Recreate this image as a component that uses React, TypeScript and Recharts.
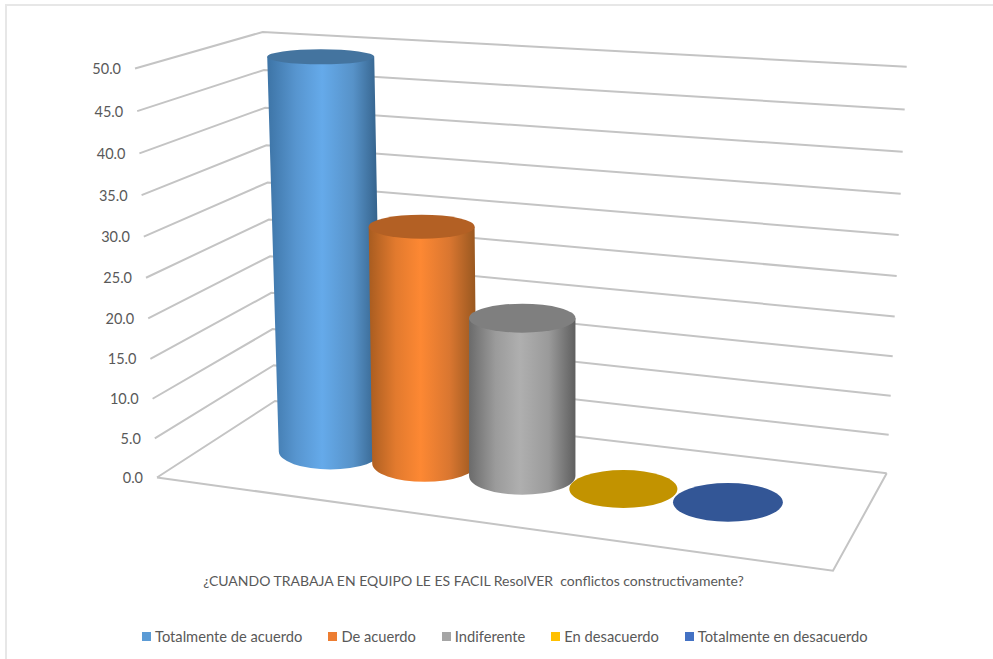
import { Bar, ComposedChart, Legend, XAxis, YAxis } from 'recharts'

const categories = ['¿CUANDO TRABAJA EN EQUIPO LE ES FACIL ResolVER  conflictos constructivamente?']
const seriesNames = [
  'Totalmente de acuerdo',
  'De acuerdo',
  'Indiferente',
  'En desacuerdo',
  'Totalmente en desacuerdo',
]
const seriesValues = [50, 30, 20, 0, 0]
const seriesColors = ['#5b9bd5', '#ed7d31', '#a5a5a5', '#ffc000', '#4472c4']
const topColors = ['#44749f', '#b36024', '#7f7f7f', '#c29300', '#335696']
const sideStops = [
  ['#3d74a6', '#5795cf', '#65aaea', '#5792c8', '#2f5b82'],
  ['#a85c20', '#e27a2e', '#fd8833', '#d97630', '#95561f'],
  ['#6b6b6b', '#9b9b9b', '#afafaf', '#9a9a9a', '#5f5f5f'],
  ['#c29300', '#c29300', '#c29300', '#c29300', '#c29300'],
  ['#335696', '#335696', '#335696', '#335696', '#335696'],
]
const yTicks = [0, 5, 10, 15, 20, 25, 30, 35, 40, 45, 50]

const data = categories.map((category) => {
  const row: Record<string, string | number> = { category }
  seriesNames.forEach((name, i) => {
    row[name] = seriesValues[i]
  })
  return row
})

const WIDTH = 993
const HEIGHT = 659
const PLOT_TOP = 68
const PLOT_BOTTOM = 477
const PLOT_LEFT = 157
const PLOT_CENTER = 522
const FONT = 'Lato, "Open Sans", sans-serif'
const TEXT = '#595959'
const WALL = '#c4c4c4'

const chartMargin = { top: PLOT_TOP, right: WIDTH - 887, bottom: 0, left: 0 }

// share of the axis height, 0 at the floor and 1 at the top tick
const axisShare = (y: number) => (PLOT_BOTTOM - y) / (PLOT_BOTTOM - PLOT_TOP)

// perspective bows the evenly spaced ticks a little towards the floor
const bow = (share: number, amount: number) => amount * share * (1 - share)

// ellipses open up as they get closer to the bottom of the view
const ellipseRy = (y: number) => 6.1 + 0.0263 * y

type CylinderProps = {
  x: number
  y: number
  width: number
  height: number
  series: number
}

const Cylinder = ({ x, y, width, height, series }: CylinderProps) => {
  const d = x + width / 2 - PLOT_CENTER
  const level = height / (PLOT_BOTTOM - PLOT_TOP)

  const baseCx = PLOT_CENTER + 0.989 * d + 0.00017 * d * d
  const baseCy = y + height - 1 + 0.128 * (baseCx - PLOT_CENTER)
  const baseRx = 53.2 + 0.0085 * d
  const baseRy = ellipseRy(baseCy)

  if (height <= 0) {
    return <ellipse cx={baseCx} cy={baseCy} rx={baseRx} ry={baseRy} fill={topColors[series]} />
  }

  const topCx = baseCx + (baseCx - PLOT_CENTER) * 0.05 * level
  const topCy = baseCy - height * 0.965
  const topRx = baseRx + Math.abs(d) * 0.01 * level
  const topRy = ellipseRy(topCy)
  const gradientId = `side-${series}`
  const stops = sideStops[series]

  return (
    <g>
      <defs>
        <linearGradient id={gradientId} x1="0" y1="0" x2="1" y2="0">
          <stop offset="0" stopColor={stops[0]} />
          <stop offset="0.25" stopColor={stops[1]} />
          <stop offset="0.48" stopColor={stops[2]} />
          <stop offset="0.75" stopColor={stops[3]} />
          <stop offset="1" stopColor={stops[4]} />
        </linearGradient>
      </defs>
      <path
        d={`M${topCx - topRx},${topCy} L${baseCx - baseRx},${baseCy} A${baseRx},${baseRy} 0 0 0 ${baseCx + baseRx},${baseCy} L${topCx + topRx},${topCy} Z`}
        fill={`url(#${gradientId})`}
      />
      <ellipse cx={topCx} cy={topCy} rx={topRx} ry={topRy} fill={topColors[series]} />
    </g>
  )
}

// each value tick runs along the side wall and then across the back wall
const WallTick = ({ y, payload }: any) => {
  const share = axisShare(y)
  const frontX = PLOT_LEFT - 22 * share
  const frontY = y + 0.5 + bow(share, 19)
  const backX = 275 - 12.3 * share
  const backY = 401 - 369 * share + bow(share, 12)
  const endX = 886.7 + 20 * share
  const endY = 473.3 - 406.6 * share + bow(share, 24)

  return (
    <g>
      <polyline
        points={`${frontX},${frontY} ${backX},${backY} ${endX},${endY}`}
        fill="none"
        stroke={WALL}
        strokeWidth={2}
      />
      {payload.value === 0 && (
        <polyline
          points={`${frontX},${frontY} 833,570.7 ${endX},${endY}`}
          fill="none"
          stroke={WALL}
          strokeWidth={2}
        />
      )}
      <text
        x={frontX - 14}
        y={frontY + 5.5}
        textAnchor="end"
        fontFamily={FONT}
        fontSize={14.5}
        fill={TEXT}
      >
        {payload.value.toFixed(1)}
      </text>
    </g>
  )
}

const CategoryTick = ({ x, payload }: any) => (
  <text
    x={x - 48.5}
    y={586}
    textAnchor="middle"
    fontFamily={FONT}
    fontSize={14}
    fill={TEXT}
    xmlSpace="preserve"
  >
    {payload.value}
  </text>
)

const LegendRow = () => (
  <div
    style={{
      position: 'absolute',
      left: 142,
      top: 626,
      display: 'flex',
      gap: 26,
      fontFamily: FONT,
      fontSize: 14.7,
      lineHeight: '20px',
      color: TEXT,
      whiteSpace: 'nowrap',
    }}
  >
    {seriesNames.map((name, i) => (
      <span key={name} style={{ display: 'flex', alignItems: 'center', gap: 4 }}>
        <span style={{ width: 9, height: 9, background: seriesColors[i] }} />
        {name}
      </span>
    ))}
  </div>
)

export default function App() {
  return (
    <div style={{ position: 'absolute', left: 0, top: 0, width: WIDTH, height: HEIGHT, background: '#fff' }}>
      <div
        style={{
          position: 'absolute',
          left: 5,
          top: 4,
          right: 0,
          bottom: 0,
          borderTop: '2px solid #e7e7e7',
          borderLeft: '2px solid #e7e7e7',
        }}
      />
      {/* walls and axis text sit in their own chart so the cylinders stack above them */}
      <div style={{ position: 'absolute', left: 0, top: 0 }}>
        <ComposedChart width={WIDTH} height={HEIGHT} data={data} margin={chartMargin}>
          <XAxis
            dataKey="category"
            height={HEIGHT - PLOT_BOTTOM}
            axisLine={false}
            tickLine={false}
            interval={0}
            tick={CategoryTick}
          />
          <YAxis
            width={PLOT_LEFT}
            domain={[0, 50]}
            ticks={yTicks}
            interval={0}
            axisLine={false}
            tickLine={false}
            tick={WallTick}
          />
          {/* the numeric axis only draws its ticks when a series is attached */}
          <Bar dataKey={seriesNames[0]} fill="none" isAnimationActive={false} />
        </ComposedChart>
      </div>
      <div style={{ position: 'absolute', left: 0, top: 0 }}>
        <ComposedChart
          width={WIDTH}
          height={HEIGHT}
          data={data}
          barSize={100.5}
          barGap={0}
          margin={{ ...chartMargin, left: PLOT_LEFT, bottom: HEIGHT - PLOT_BOTTOM }}
        >
          <XAxis dataKey="category" hide />
          <YAxis domain={[0, 50]} ticks={yTicks} hide />
          {seriesNames.map((name, i) => (
            <Bar
              key={name}
              dataKey={name}
              fill={seriesColors[i]}
              isAnimationActive={false}
              shape={(props: any) => <Cylinder {...props} series={i} />}
            />
          ))}
          <Legend content={LegendRow} wrapperStyle={{ left: 0, top: 0, bottom: 'auto', width: 0, height: 0 }} />
        </ComposedChart>
      </div>
    </div>
  )
}
